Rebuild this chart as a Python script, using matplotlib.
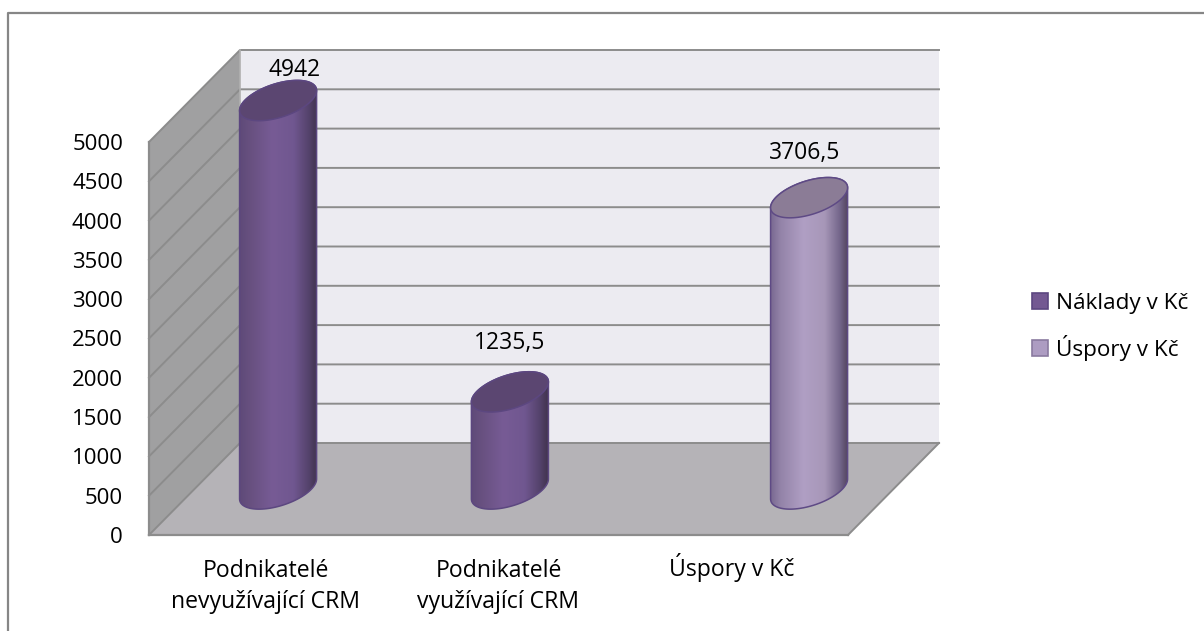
import numpy as np
import matplotlib
matplotlib.use("Agg")
import matplotlib.pyplot as plt
from matplotlib.patches import Polygon, PathPatch, Patch
from matplotlib.path import Path
from matplotlib.colors import LinearSegmentedColormap
from matplotlib.lines import Line2D
from matplotlib.transforms import ScaledTranslation

plt.rcParams['font.family'] = ['Open Sans', 'DejaVu Sans']

categories = ["Podnikatelé\nnevyužívající CRM", "Podnikatelé\nvyužívající CRM", "Úspory v Kč"]
values = [4942, 1235.5, 3706.5]
value_labels = ["4942", "1235,5", "3706,5"]
series_names = ["Náklady v Kč", "Úspory v Kč"]
series_of_bar = [0, 0, 1]
y_ticks = list(range(0, 5001, 500))

W, H = 1204, 631
fig = plt.figure(figsize=(W / 100, H / 100), dpi=100, facecolor='white')
L, R, T, B = 149, 848, 142, 535
ax = fig.add_axes([L / W, (H - B) / H, (R - L) / W, (B - T) / H])
ax.set_xlim(0, 3)
ax.set_ylim(0, 5000)
ax.patch.set_alpha(0)
px = 3 / (R - L)
py = 5000 / (B - T)

# outer frame
GR = '#868686'
fig.add_artist(Line2D([7.5 / W, 7.5 / W, 1204 / W], [0, (H - 12.5) / H, (H - 12.5) / H], color=GR, lw=1.6))

DX, DY = 91 * px, 92 * py
kw = dict(clip_on=False)
ax.add_patch(Polygon([(DX, DY), (3 + DX, DY), (3 + DX, 5000 + DY), (DX, 5000 + DY)], fc='#ecebf1', ec='none', zorder=1, **kw))
ax.add_patch(Polygon([(0, 0), (3, 0), (3 + DX, DY), (DX, DY)], fc='#b5b3b7', ec='none', zorder=1, **kw))
ax.add_patch(Polygon([(0, 0), (DX, DY), (DX, 5000 + DY), (0, 5000)], fc='#a0a0a1', ec='none', zorder=1, **kw))
for v in y_ticks:
    ax.plot([0, DX, 3 + DX], [v, v + DY, v + DY], color='#8c8c8c', lw=1.4, zorder=2, **kw)
ax.plot([DX, DX], [DY, 5000 + DY], color='#b0b0b0', lw=1.2, zorder=2, **kw)
ax.plot([3, 3 + DX], [0, DY], color='#8c8c8c', lw=1.4, zorder=2, **kw)
ax.plot([0, 0], [0, 5000], color='#8c8c8c', lw=1.6, zorder=2, **kw)
ax.plot([0, 3], [0, 0], color='#8c8c8c', lw=1.6, zorder=2, **kw)

# cylinders
cmaps = [
    LinearSegmentedColormap.from_list('a', [(0, '#5f4a79'), (.12, '#67507f'), (.42, '#775b95'), (.7, '#705790'), (.9, '#54426b'), (1, '#42344f')]),
    LinearSegmentedColormap.from_list('b', [(0, '#7a6a92'), (.12, '#9383a8'), (.42, '#b09fc4'), (.7, '#a797b8'), (.9, '#73658a'), (1, '#53465f')]),
]
top_col = ['#5b4671', '#8b7c96']
edge_col = ['#5c4780', '#5e4a85']
x_shift = [0.554, 0.549, 0.833]
base_v = 46 * py
ra, rb, rk = 38.5 * px, 17.5 * py, 10 * py
lab_dx = [16, 0, -4]
lab_dy = [31, 49, 45]
t = np.linspace(0, 2 * np.pi, 121)
for i, v in enumerate(values):
    s = series_of_bar[i]
    cx = i + x_shift[i]
    top = base_v + v
    ex = cx + ra * np.cos(t)
    ey = rb * np.sin(t) + rk * np.cos(t)
    th = np.linspace(np.pi, 2 * np.pi, 61)
    bx = cx + ra * np.cos(th)
    by = base_v + rb * np.sin(th) + rk * np.cos(th)
    th2 = np.linspace(0, np.pi, 61)
    tx = cx + ra * np.cos(th2)
    ty = top + rb * np.sin(th2) + rk * np.cos(th2)
    verts = np.r_[np.c_[bx, by], np.c_[tx, ty], [[bx[0], by[0]]]]
    ax.add_patch(PathPatch(Path(verts, closed=True), fc='none', ec=edge_col[s], lw=1.1, zorder=4, clip_on=False))
    im = ax.imshow(np.linspace(0, 1, 128)[None, :], extent=[cx - ra, cx + ra, by.min() - 10, top + 40 * py],
                   aspect='auto', cmap=cmaps[s], zorder=3, origin='lower')
    clip = PathPatch(Path(verts, closed=True), transform=ax.transData, fc='none', ec='none')
    im.set_clip_path(clip)
    im.set_clip_box(fig.bbox)
    ax.fill(ex, top + ey, fc=top_col[s], ec=edge_col[s], lw=1.1, zorder=5, clip_on=False)
    ax.annotate(value_labels[i], (cx, top), xytext=(lab_dx[i], lab_dy[i]), textcoords='offset pixels',
                ha='center', va='center', fontsize=16.5, color='black', zorder=6, annotation_clip=False)
ax.set_xlim(0, 3)
ax.set_ylim(0, 5000)

for sp in ax.spines.values():
    sp.set_visible(False)
ax.set_xticks([i + .5 for i in range(3)], categories)
ax.set_yticks(y_ticks, [str(v) for v in y_ticks])
ax.tick_params(axis='both', length=0, labelcolor='black')
ax.tick_params(axis='y', pad=26 * 72 / 100, labelsize=16)
ax.tick_params(axis='x', pad=24 * 72 / 100, labelsize=16.6)
for lb in ax.get_xticklabels():
    lb.set_linespacing(1.38)
single = ax.get_xticklabels()[2]
single.set_transform(single.get_transform() + ScaledTranslation(0, 6 / 100, fig.dpi_scale_trans))

handles = [Patch(fc=c, ec=e, lw=1.2) for c, e in zip(['#735892', '#ad9cc2'], ['#5c4780', '#8a7aa0'])]
fig.legend(handles, series_names, loc='center left', bbox_to_anchor=(1016 / W, (H - 327) / H), frameon=False,
           fontsize=16.2, handlelength=0.72, handleheight=0.72, handletextpad=0.35, labelspacing=0.94, borderpad=0.2)

fig.savefig('out.png', dpi=100, facecolor='white')
